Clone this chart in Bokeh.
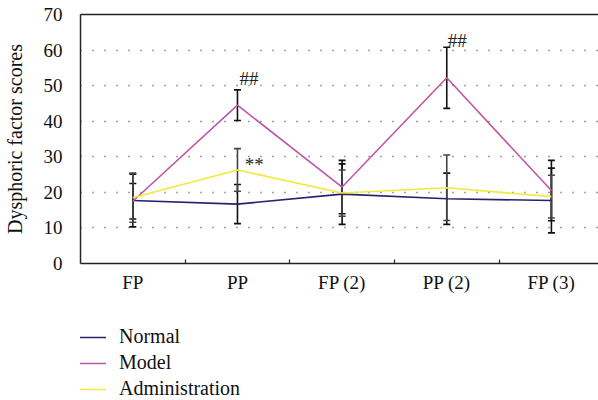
from bokeh.plotting import figure
from bokeh.layouts import column
from bokeh.models import (ColumnDataSource, Whisker, TeeHead, FixedTicker, LinearAxis,
                          Range1d, Legend, LegendItem)
from bokeh.core.properties import value
from bokeh.embed import file_html
from bokeh.resources import INLINE

categories = ["FP", "PP", "FP (2)", "PP (2)", "FP (3)"]
normal = [17.7, 16.7, 19.5, 18.2, 17.7]
normal_err = [7.4, 5.5, 8.5, 7.2, 9.1]
model = [17.5, 44.5, 21.5, 52.2, 20.5]
model_err = [5.0, 4.3, 7.5, 8.6, 8.5]
admin = [18.5, 26.3, 19.8, 21.3, 18.8]
admin_err = [6.9, 6.0, 6.5, 9.2, 6.0]
y_ticks = [0, 10, 20, 30, 40, 50, 60, 70]
series_names = ["Normal", "Model", "Administration"]
marks = ["##", "**", "##"]
mark_x = [1.11, 1.16, 3.1]
mark_y = [52.0, 27.8, 62.7]

FONT = "Liberation Serif"
xs = list(range(len(categories)))
colors = {"Normal": "#23236e", "Model": "#c056a8", "Administration": "#f2ea3a"}
series = {"Normal": normal, "Model": model, "Administration": admin}

p = figure(width=598, height=300, output_backend="svg", toolbar_location=None,
           x_range=Range1d(-0.5, 4.45), y_range=Range1d(0, 70),
           min_border_left=73, min_border_right=0, min_border_top=14, min_border_bottom=37)
p.outline_line_color = None
p.background_fill_color = "white"
p.border_fill_color = "white"

# grid
p.xgrid.grid_line_color = None
p.ygrid.ticker = FixedTicker(ticks=[10, 20, 30, 40, 50, 60])
p.ygrid.grid_line_color = "#444444"
p.ygrid.grid_line_dash = "1 11"
p.ygrid.grid_line_width = 1.3

# axes
p.yaxis.ticker = FixedTicker(ticks=y_ticks)
p.yaxis.major_tick_line_color = None
p.yaxis.minor_tick_line_color = None
p.yaxis.axis_line_color = "#222222"
p.yaxis.axis_line_width = 1.5
p.yaxis.major_label_text_font = FONT
p.yaxis.major_label_text_font_size = "19px"
p.yaxis.major_label_text_color = "#111111"
p.yaxis.major_label_standoff = 12
p.yaxis.axis_label = "Dysphoric factor scores"
p.yaxis.axis_label_text_font = FONT
p.yaxis.axis_label_text_font_size = "20px"
p.yaxis.axis_label_text_font_style = "normal"
p.yaxis.axis_label_text_color = "#111111"
p.yaxis.axis_label_standoff = 15

p.xaxis.ticker = FixedTicker(ticks=xs, minor_ticks=[0.5, 1.5, 2.5, 3.5])
p.xaxis.major_label_overrides = {i: c for i, c in enumerate(categories)}
p.xaxis.major_tick_line_color = None
p.xaxis.major_tick_in = 0
p.xaxis.major_tick_out = 0
p.xaxis.minor_tick_in = 4
p.xaxis.minor_tick_out = 0
p.xaxis.minor_tick_line_color = "#222222"
p.xaxis.minor_tick_line_width = 1.2
p.xaxis.axis_line_color = "#222222"
p.xaxis.axis_line_width = 1.5
p.xaxis.major_label_text_font = FONT
p.xaxis.major_label_text_font_size = "19px"
p.xaxis.major_label_text_color = "#111111"
p.xaxis.major_label_standoff = 8

top_axis = LinearAxis(ticker=FixedTicker(ticks=[]), axis_line_color="#222222",
                      axis_line_width=1.5, major_tick_line_color=None,
                      minor_tick_line_color=None)
p.add_layout(top_axis, "above")

# lines
for name in series_names:
    p.line(xs, series[name], line_color=colors[name], line_width=1.6)

# error bars
for vals, errs, col in [(normal, normal_err, "#111111"), (model, model_err, "#111111"),
                        (admin, admin_err, "#444444")]:
    src = ColumnDataSource(dict(x=xs,
                                upper=[v + e for v, e in zip(vals, errs)],
                                lower=[v - e for v, e in zip(vals, errs)]))
    w = Whisker(source=src, base="x", upper="upper", lower="lower", dimension="height",
                line_color=col, line_width=1.6,
                upper_head=TeeHead(size=7, line_color=col, line_width=1.6),
                lower_head=TeeHead(size=7, line_color=col, line_width=1.6))
    p.add_layout(w)

# significance marks
p.text(x=mark_x, y=mark_y, text=marks, text_font=value(FONT), text_font_size="19px",
       text_align="center", text_baseline="middle", text_color="#222222")

# legend figure (its lines lie outside its visible range; only the legend shows)
p2 = figure(width=598, height=100, output_backend="svg", toolbar_location=None,
            x_axis_type=None, y_axis_type=None,
            x_range=Range1d(-0.5, 4.45), y_range=Range1d(1000, 1001),
            min_border_left=73, min_border_right=0, min_border_top=0, min_border_bottom=0)
p2.outline_line_color = None
p2.grid.visible = False
items = []
for name in series_names:
    r = p2.line(xs, series[name], line_color=colors[name], line_width=1.6)
    items.append(LegendItem(label=name, renderers=[r]))
legend = Legend(items=items, location=(-8, 0), orientation="vertical",
                label_text_font=FONT, label_text_font_size="20px",
                label_text_color="#111111",
                glyph_width=34, glyph_height=20, label_height=20, label_standoff=13,
                spacing=3, padding=0, margin=0,
                border_line_color=None, background_fill_alpha=0)
p2.add_layout(legend)

layout = column(p, p2, spacing=0)
open("out.html", "w").write(file_html(layout, INLINE))
